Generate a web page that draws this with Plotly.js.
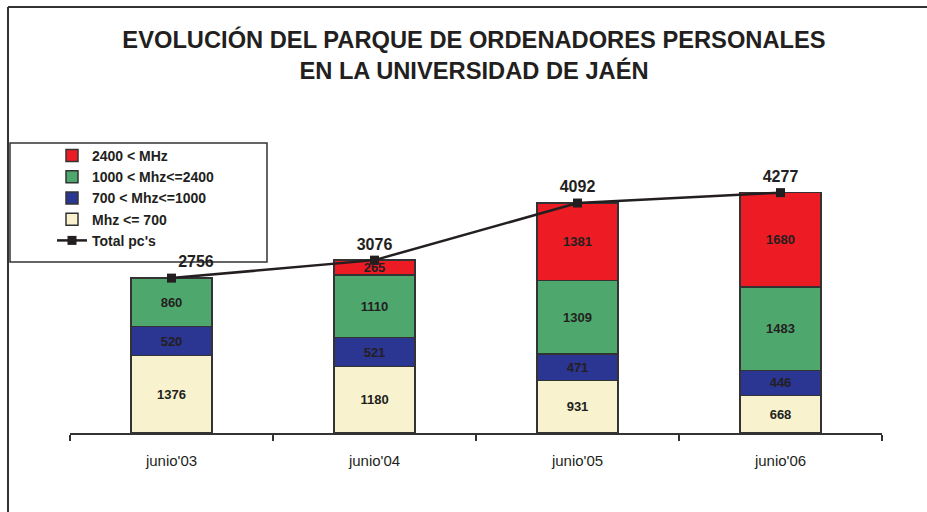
<!DOCTYPE html>
<html>
<head>
<meta charset="utf-8">
<script src="https://cdn.plot.ly/plotly-3.0.1.min.js"></script>
<style>html,body{margin:0;padding:0;background:#fff;}#chart{width:927px;height:512px;}</style>
</head>
<body>
<div id="chart"></div>
<script>
const categories = ["junio'03", "junio'04", "junio'05", "junio'06"];
const mhz700 = [1376, 1180, 931, 668];
const mhz700to1000 = [520, 521, 471, 446];
const mhz1000to2400 = [860, 1110, 1309, 1483];
const mhz2400 = [0, 265, 1381, 1680];
const totals = [2756, 3076, 4092, 4277];
const seriesNames = ["Mhz <= 700", "700 < Mhz<=1000", "1000 < Mhz<=2400", "2400 < MHz", "Total pc's"];
const titleText = "EVOLUCIÓN DEL PARQUE DE ORDENADORES PERSONALES<br>EN LA UNIVERSIDAD DE JAÉN";

const textColor = '#231f20';
const FONT = 'Liberation Sans, Arial, sans-serif';
function barTrace(vals, name, color) {
  return {
    type: 'bar', x: categories, y: vals, name: name,
    marker: {color: color, line: {color: '#333333', width: 1.5}},
    text: vals.map(v => v > 0 ? '<b>' + v + '</b>' : ''),
    textposition: 'inside', insidetextanchor: 'middle', textangle: 0,
    constraintext: 'none',
    insidetextfont: {family: FONT, size: 13, color: textColor},
    hoverinfo: 'none'
  };
}
const data = [
  {
    type: 'scatter', mode: 'lines+markers+text', x: categories, y: totals, name: seriesNames[4],
    line: {color: textColor, width: 2.5},
    marker: {symbol: 'square', size: 9, color: textColor},
    text: totals.map(v => '<b>' + v + '</b>'),
    textposition: ['top right', 'top center', 'top center', 'top center'],
    textfont: {family: FONT, size: 16, color: textColor},
    hoverinfo: 'none'
  },
  barTrace(mhz700, seriesNames[0], '#f8f3ce'),
  barTrace(mhz700to1000, seriesNames[1], '#2b3592'),
  barTrace(mhz1000to2400, seriesNames[2], '#4ea86e'),
  barTrace(mhz2400, seriesNames[3], '#ed1c24')
];

const W = 927, H = 512, L = 70, R = 45, T = 152, B = 79;
const pw = W - L - R, ph = H - T - B;
const px = x => (x - L) / pw;
const py = y => (H - B - y) / ph;

const layout = {
  width: W, height: H,
  margin: {l: L, r: R, t: T, b: B},
  paper_bgcolor: '#ffffff', plot_bgcolor: 'rgba(0,0,0,0)',
  barmode: 'stack', bargap: 0.6,
  font: {family: FONT, color: textColor},
  title: {
    text: '<b>' + titleText + '</b>',
    font: {family: FONT, size: 23.7, color: textColor},
    x: 474 / W, xanchor: 'center', y: 0.906, yanchor: 'top'
  },
  xaxis: {
    type: 'category', showline: true, linecolor: '#333333', linewidth: 1.5,
    ticks: 'outside', tickson: 'boundaries', ticklen: 6, tickcolor: '#333333', tickwidth: 1.5,
    ticklabelstandoff: 13,
    tickfont: {family: FONT, size: 15, color: textColor},
    showgrid: false, zeroline: false, fixedrange: true
  },
  yaxis: {range: [0, 5000], visible: false, showgrid: false, zeroline: false, fixedrange: true},
  legend: {
    x: px(52), y: py(140), xanchor: 'left', yanchor: 'top',
    bgcolor: 'rgba(0,0,0,0)', borderwidth: 0,
    font: {family: FONT, size: 14, color: textColor, weight: 'bold'},
    traceorder: 'reversed', itemwidth: 30
  },
  shapes: [
    {type: 'line', xref: 'paper', yref: 'paper', x0: px(8), x1: px(927), y0: py(7), y1: py(7), line: {color: '#333333', width: 2}},
    {type: 'line', xref: 'paper', yref: 'paper', x0: px(8), x1: px(8), y0: py(7), y1: py(512), line: {color: '#333333', width: 2}},
    {type: 'rect', xref: 'paper', yref: 'paper', layer: 'below', x0: px(10), x1: px(267), y0: py(143), y1: py(262), fillcolor: '#ffffff', line: {color: '#333333', width: 1.5}}
  ],
  showlegend: true
};
Plotly.newPlot('chart', data, layout, {displayModeBar: false, staticPlot: true});
</script>
</body>
</html>
